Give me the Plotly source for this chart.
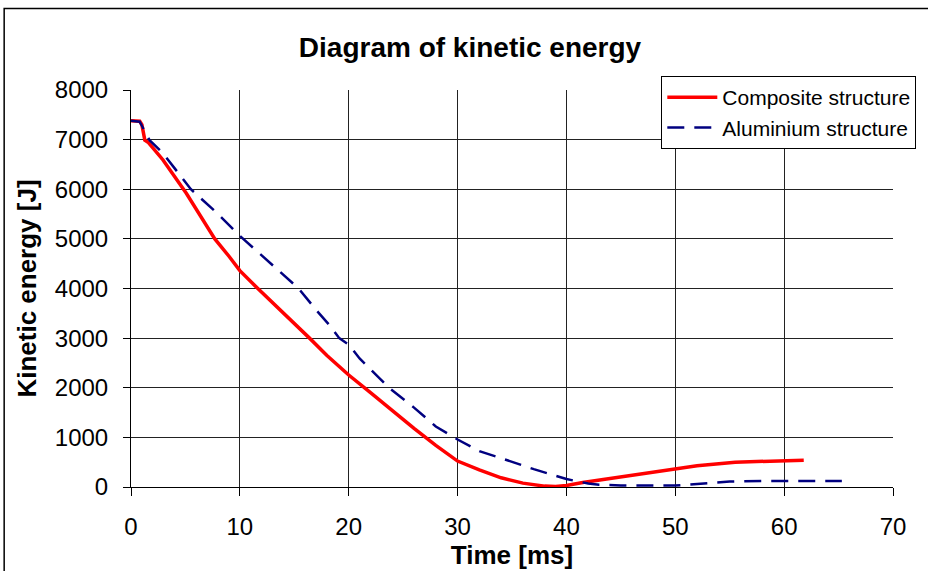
import plotly.graph_objects as go

# Composite structure (red)
comp_t = [0, 0.8, 1.0, 1.27, 1.6, 2.94, 5.08, 6, 7.7, 9, 10, 11.65, 13, 15.5, 16.4, 18, 20, 22, 24, 26, 28,
          30, 32, 34, 36, 37, 38, 39, 40, 41.5, 43, 45, 47.6, 50, 52, 55.5, 58, 60, 61.8]
comp_e = [7380, 7370, 7300, 6990, 6940, 6590, 5920, 5600, 5000, 4650, 4360, 4000, 3720, 3200, 3000, 2650, 2257, 1900, 1530, 1180, 840,
          523, 345, 185, 78, 43, 18, 10, 30, 90, 140, 210, 290, 370, 430, 500, 520, 540, 540]

# Aluminium structure (blue dashed)
alu_t = [0, 0.8, 1.7, 2.94, 5.5, 8, 10, 11.35, 14, 15.4, 17, 18.2, 19.13, 20, 21, 21.9, 23.7, 26, 28, 30, 32,
         34, 37, 40, 42, 43, 45, 50, 52, 55, 58, 65.3]
alu_e = [7380, 7360, 6990, 6725, 6000, 5500, 5060, 4800, 4280, 4000, 3570, 3270, 3000, 2870, 2590, 2390, 2000, 1600, 1220, 957, 723,
         580, 360, 160, 70, 45, 30, 30, 60, 110, 120, 120]

x_ticks = [0, 10, 20, 30, 40, 50, 60, 70]
y_ticks = [0, 1000, 2000, 3000, 4000, 5000, 6000, 7000, 8000]

FONT = "Liberation Sans, Arial, sans-serif"
W, H = 928, 571
L, R, T, B = 131, 34, 90, 82
PW, PH = W - L - R, H - T - B

fig = go.Figure()
fig.add_trace(go.Scatter(x=comp_t, y=comp_e, mode="lines", name="Composite structure",
                         line=dict(color="#FF0000", width=3.5)))
fig.add_trace(go.Scatter(x=alu_t, y=alu_e, mode="lines", name="Aluminium structure",
                         line=dict(color="#000080", width=2.5, dash="17px,10px")))

fig.update_layout(
    width=W, height=H,
    margin=dict(l=L, r=R, t=T, b=B),
    paper_bgcolor="white", plot_bgcolor="white",
    font=dict(family=FONT, color="black", size=24),
    title=dict(text="<b>Diagram of kinetic energy</b>", x=470/W, xanchor="center",
               y=1 - 47/H, yanchor="middle", font=dict(size=28, family=FONT)),
    legend=dict(x=(662-L)/PW, y=(H-B-76)/PH, xanchor="left", yanchor="top",
                bgcolor="white", bordercolor="black", borderwidth=1,
                font=dict(size=21, family=FONT), tracegroupgap=0, itemwidth=50),
    showlegend=True,
)
fig.update_xaxes(range=[0, 70], tickvals=x_ticks, ticks="outside", ticklen=8, tickcolor="black",
                 showgrid=True, gridcolor="#222", gridwidth=1, zeroline=False,
                 showline=True, linecolor="black", linewidth=1, mirror=False,
                 tickfont=dict(size=24), ticklabelstandoff=10,
                 title=dict(text="<b>Time [ms]</b>", font=dict(size=26), standoff=1))
fig.update_yaxes(range=[0, 8000], tickvals=y_ticks, ticks="outside", ticklen=7, tickcolor="black",
                 showgrid=True, gridcolor="#222", gridwidth=1, zeroline=False,
                 showline=True, linecolor="black", linewidth=1,
                 tickfont=dict(size=24), ticklabelstandoff=10,
                 title=dict(text="<b>Kinetic energy [J]</b>", font=dict(size=26), standoff=10))

# outer chart frame (left/top visible in the reference)
fig.add_shape(type="rect", xref="paper", yref="paper",
              x0=(4-L)/PW, x1=(W+20-L)/PW, y0=(H-B-(H+20))/PH, y1=(H-B-8)/PH,
              line=dict(color="black", width=1.5), fillcolor="rgba(0,0,0,0)", layer="below")

fig.write_html("out.html", config={"displayModeBar": False},
               post_script="document.body.style.margin='0px';document.body.style.overflow='hidden';")
